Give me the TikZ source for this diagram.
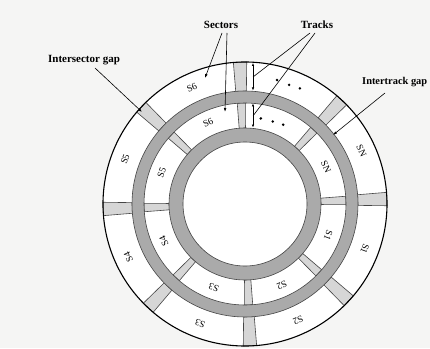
\documentclass[tikz,border=0pt]{standalone}
\usepackage{fontspec}
\setmainfont{Liberation Serif}
\usepackage{tikz}
\usetikzlibrary{arrows.meta}

\definecolor{paper}{RGB}{245,245,244}
\definecolor{ringgray}{RGB}{170,170,170}
\definecolor{gapgray}{RGB}{214,214,214}
\definecolor{edge}{RGB}{70,70,70}

\tikzset{
  ring/.style={fill=ringgray,draw=edge,line width=0.6pt,even odd rule},
  gap/.style={fill=gapgray,draw=edge,line width=0.6pt},
  sec/.style={font=\fontsize{9.5}{10}\selectfont,inner sep=0pt},
  tag/.style={font=\fontsize{11}{13}\selectfont\bfseries,inner sep=1pt},
  leader/.style={line width=0.6pt},
  width/.style={line width=0.5pt,{Latex[length=3pt,width=2.4pt]}-{Latex[length=3pt,width=2.4pt]}},
  dot/.style={circle,fill=black,inner sep=0pt,minimum size=2.8pt}
}

\begin{document}
\begin{tikzpicture}[x=1pt,y=1pt]
\useasboundingbox (-245,-144) rectangle (185,204) ;
\fill[paper] (-245,-144) rectangle (185,204) ;

% disk
\fill[white] (0,0) circle (142) ;
% gaps, outer track
\draw[gap] (89.3:113) -- (89.3:142) -- (94.7:142) -- (94.7:113) -- cycle ;
\draw[gap] (44.3:113) -- (44.3:142) -- (49.7:142) -- (49.7:113) -- cycle ;
\draw[gap] (-0.7:113) -- (-0.7:142) -- (4.7:142) -- (4.7:113) -- cycle ;
\draw[gap] (-45.7:113) -- (-45.7:142) -- (-40.3:142) -- (-40.3:113) -- cycle ;
\draw[gap] (-90.7:113) -- (-90.7:142) -- (-85.3:142) -- (-85.3:113) -- cycle ;
\draw[gap] (-135.7:113) -- (-135.7:142) -- (-130.3:142) -- (-130.3:113) -- cycle ;
\draw[gap] (179.3:113) -- (179.3:142) -- (184.7:142) -- (184.7:113) -- cycle ;
\draw[gap] (134.3:113) -- (134.3:142) -- (139.7:142) -- (139.7:113) -- cycle ;
% gaps, inner track
\draw[gap] (89.6:76) -- (89.6:101) -- (94.4:101) -- (94.4:76) -- cycle ;
\draw[gap] (44.6:76) -- (44.6:101) -- (49.4:101) -- (49.4:76) -- cycle ;
\draw[gap] (-0.4:76) -- (-0.4:101) -- (4.4:101) -- (4.4:76) -- cycle ;
\draw[gap] (-45.4:76) -- (-45.4:101) -- (-40.6:101) -- (-40.6:76) -- cycle ;
\draw[gap] (-90.4:76) -- (-90.4:101) -- (-85.6:101) -- (-85.6:76) -- cycle ;
\draw[gap] (-135.4:76) -- (-135.4:101) -- (-130.6:101) -- (-130.6:76) -- cycle ;
\draw[gap] (179.6:76) -- (179.6:101) -- (184.4:101) -- (184.4:76) -- cycle ;
\draw[gap] (134.6:76) -- (134.6:101) -- (139.4:101) -- (139.4:76) -- cycle ;
% intertrack ring and inner ring
\draw[ring] (0,0) circle (113) (0,0) circle (101) ;
\draw[ring] (0,0) circle (76) (0,0) circle (62) ;
\draw[line width=1.1pt] (0,0) circle (142) ;

% sector names
\node[sec,rotate=24.5] (o6) at (114.5:128) {S6} ;
\node[sec,rotate=-65.5] (oN) at (24.5:128) {SN} ;
\node[sec,rotate=-110.5] (o1) at (-20.5:128) {S1} ;
\node[sec,rotate=-155.5] (o2) at (-65.5:128) {S2} ;
\node[sec,rotate=159.5] (o3) at (-110.5:128) {S3} ;
\node[sec,rotate=114.5] (o4) at (204.5:128) {S4} ;
\node[sec,rotate=69.5] (o5) at (159.5:128) {S5} ;
\node[sec,rotate=24.5] (i6) at (114.5:89) {S6} ;
\node[sec,rotate=-65.5] (iN) at (24.5:89) {SN} ;
\node[sec,rotate=-110.5] (i1) at (-20.5:89) {S1} ;
\node[sec,rotate=-155.5] (i2) at (-65.5:89) {S2} ;
\node[sec,rotate=159.5] (i3) at (-110.5:89) {S3} ;
\node[sec,rotate=114.5] (i4) at (204.5:89) {S4} ;
\node[sec,rotate=69.5] (i5) at (159.5:89) {S5} ;

% dots
\node[dot] (od1) at (75.5:128) {} ;
\node[dot] (od2) at (69.7:127) {} ;
\node[dot] (od3) at (64.6:128) {} ;
\node[dot] (id1) at (79.5:87) {} ;
\node[dot] (id2) at (71.4:87) {} ;
\node[dot] (id3) at (64.3:88) {} ;

% track widths
\coordinate (ot) at (8,141) ;
\coordinate (ob) at (8,113.5) ;
\coordinate (it) at (8,100.5) ;
\coordinate (ib) at (8,76.5) ;
\draw[width] (ot) -- (ob) ;
\draw[width] (it) -- (ib) ;
\coordinate (om) at (8,127) ;
\coordinate (im) at (8,88) ;

% labels
\node[tag] (sectors) at (-24,179) {Sectors} ;
\node[tag] (tracks) at (72,179) {Tracks} ;
\node[tag] (isgap) at (-161,144) {Intersector gap} ;
\node[tag,font=\fontsize{10.4}{13}\selectfont\bfseries,anchor=west] (itgap) at (116,122) {Intertrack gap} ;
\coordinate (sa) at (-40,126) ;
\coordinate (sb) at (-20,92) ;
\coordinate (ga) at (-103,92) ;
\coordinate (gb) at (88,69) ;
\draw[leader,-{Latex[length=4pt,width=2.6pt]}] (-23,171) to (sa) ;
\draw[leader,-{Latex[length=4pt,width=2.6pt]}] (-18,171) to (sb) ;
\draw[leader] (65,171) to (om) ;
\draw[leader] (70,171) to (im) ;
\draw[leader,-{Latex[length=4pt,width=2.6pt]}] (-150,136) to (ga) ;
\draw[leader,-{Latex[length=4pt,width=2.6pt]}] (140,111) to (gb) ;
\end{tikzpicture}
\end{document}
